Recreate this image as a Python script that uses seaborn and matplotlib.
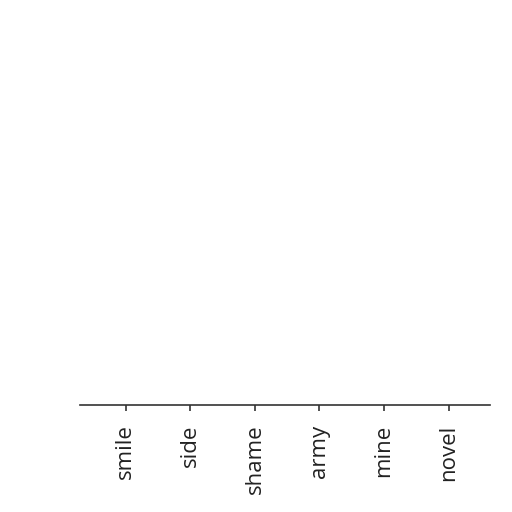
import matplotlib as mpl
mpl.use('Agg')
import matplotlib.pyplot as plt
import pandas as pd
import seaborn as sns

# categories along the x axis, nothing visible above them
words = ['smile', 'side', 'shame', 'army', 'mine', 'novel']
values = [0, 0, 0, 0, 0, 0]

df = pd.DataFrame({'word': words, 'value': values})

sns.set_style('white')
plt.rcParams['font.family'] = ['Open Sans', 'DejaVu Sans']

fig = plt.figure(figsize=(5.12, 5.12), dpi=100)
ax = fig.add_axes([0.156, 0.209, 0.801, 0.75])

sns.barplot(data=df, x='word', y='value', color='#4c72b0', ax=ax)

ax.set_xlim(-0.71, 5.64)
ax.set_xlabel('')
ax.set_ylabel('')
ax.set_yticks([])
ax.tick_params(axis='x', labelrotation=90, labelsize=16, length=4, width=1.2,
               pad=10, bottom=True, color='#333333', labelcolor='#222222')
sns.despine(ax=ax, left=True, top=True, right=True)
ax.spines['bottom'].set_color('#333333')
ax.spines['bottom'].set_linewidth(1.2)

plt.savefig('out.png', dpi=100)
